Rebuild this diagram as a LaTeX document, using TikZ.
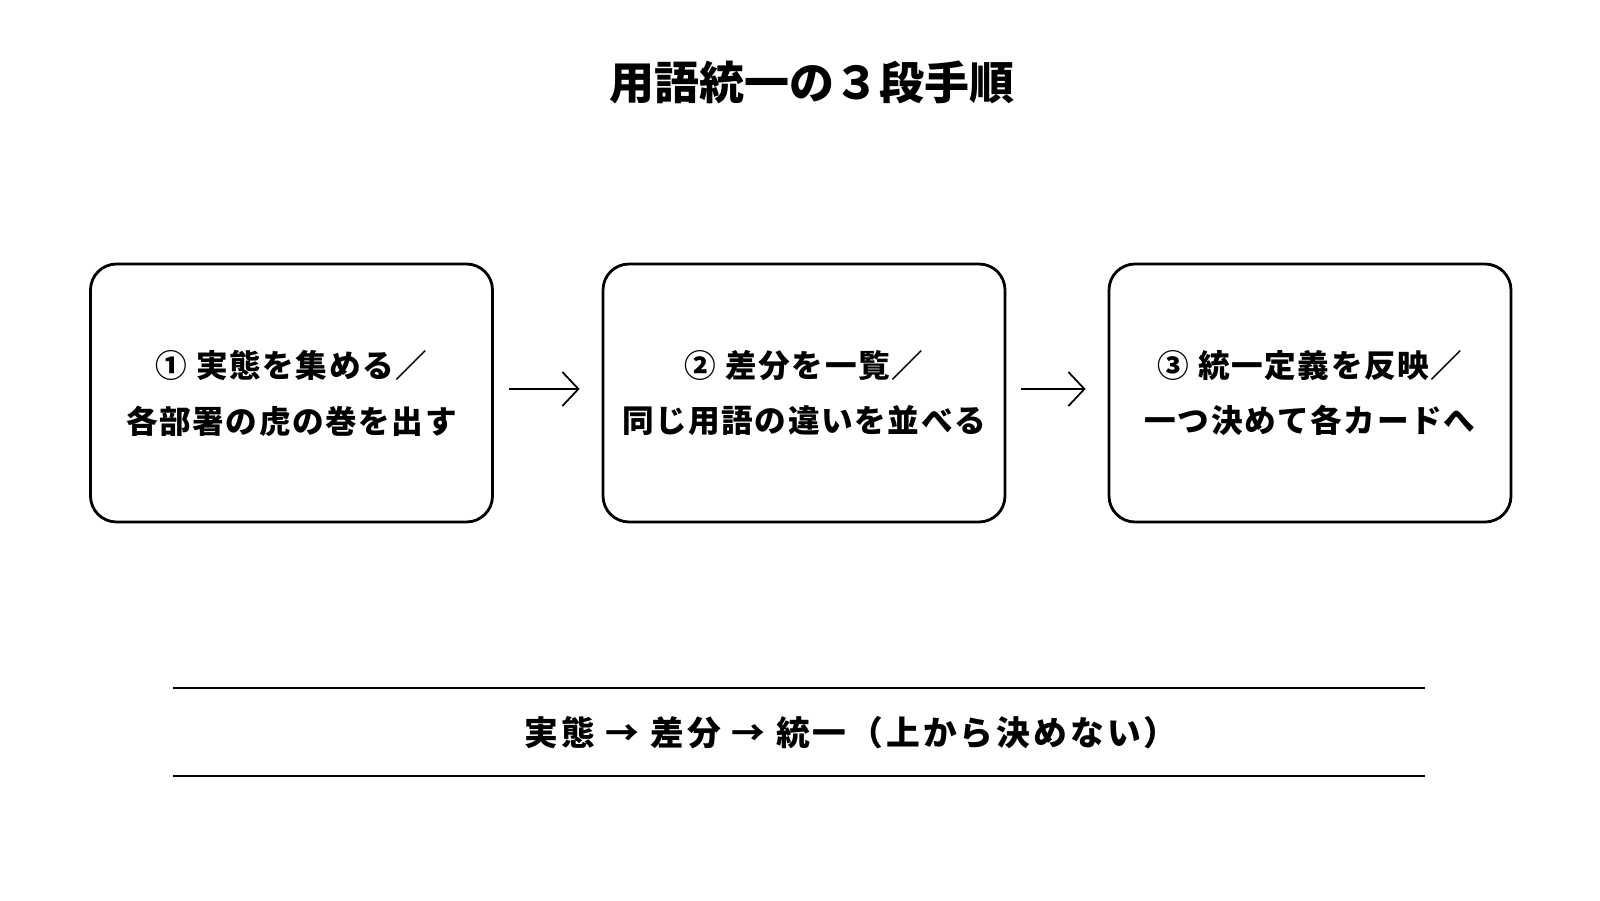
\documentclass[tikz,border=0pt]{standalone}
\usepackage{fontspec}
\usepackage{tikz}
\usetikzlibrary{positioning,arrows.meta}
\newfontfamily\cjk{Noto Sans CJK JP}
\newfontfamily\cjkwide{Noto Sans CJK JP}[LetterSpace=5]
\newfontfamily\cjkwider{Noto Sans CJK JP}[LetterSpace=9]
\tikzset{
    stepcard/.style={draw, line width=0.8pt, rounded corners=0.26cm,
        minimum width=4.02cm, minimum height=2.58cm, align=center,
        font=\cjkwide\bfseries\fontsize{9pt}{15.9pt}\selectfont},
    flow/.style={-{Straight Barb[length=1.6mm,width=3.4mm]}, line width=0.5pt,
        shorten >=0.22cm, shorten <=0.15cm},
    rule/.style={line width=0.6pt},
}
\begin{document}
\begin{tikzpicture}
    % Canvas
    \useasboundingbox (0,0) rectangle (16,9);

    % Title
    \node[font=\cjk\bfseries\fontsize{12.8pt}{14pt}\selectfont] (title) at (8.12,8.18) {用語統一の３段手順};

    % Three steps
    \node[stepcard] (collect) at (2.915,5.07) {① 実態を集める／\\各部署の虎の巻を出す};
    \node[stepcard] (diff) at (8.04,5.07) {② 差分を一覧／\\同じ用語の違いを並べる};
    \node[stepcard] (unify) at (13.10,5.07) {③ 統一定義を反映／\\一つ決めて各カードへ};

    % Arrows between steps
    \draw[flow] ([yshift=0.04cm]collect.east) -- ([yshift=0.04cm]diff.west);
    \draw[flow] ([yshift=0.04cm]diff.east) -- ([yshift=0.04cm]unify.west);

    % Summary between two rules
    \coordinate (ruletopL) at (1.73,2.12);
    \coordinate (ruletopR) at (14.25,2.12);
    \coordinate (rulebotL) at (1.73,1.24);
    \coordinate (rulebotR) at (14.25,1.24);
    \draw[rule] (ruletopL) -- (ruletopR);
    \draw[rule] (rulebotL) -- (rulebotR);
    \node[font=\cjkwider\bfseries\fontsize{9.6pt}{10pt}\selectfont] (summary) at (8.51,1.67) {実態 → 差分 → 統一（上から決めない）};

\end{tikzpicture}
\end{document}
